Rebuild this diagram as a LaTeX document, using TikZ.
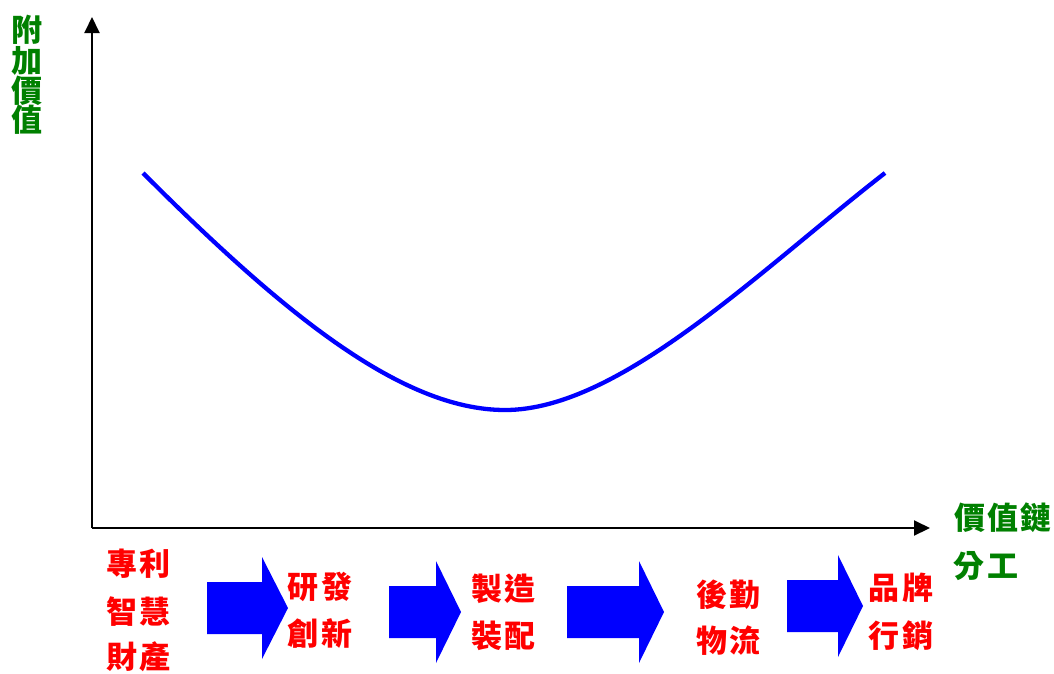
\documentclass[tikz,border=0pt]{standalone}
\usepackage{fontspec}
\usepackage{xcolor}
\usetikzlibrary{arrows.meta}
\newfontfamily\cjkfont{Noto Sans CJK TC}[LetterSpace=8]
\definecolor{lblgreen}{RGB}{0,128,0}
\definecolor{lblred}{RGB}{255,0,0}
\definecolor{curveblue}{RGB}{0,0,255}
% block arrow: left x, head x, tip x, centre y
\newcommand{\vcArrow}[4]{\fill[curveblue] (#1,#4-26) -- (#2,#4-26) -- (#2,#4-51) -- (#3,#4) -- (#2,#4+51) -- (#2,#4+26) -- (#1,#4+26) -- cycle;}

\begin{document}
\begin{tikzpicture}[x=1pt,y=-1pt,
  cjk/.style={anchor=base, inner sep=0pt, font=\cjkfont\bfseries\fontsize{31}{33}\selectfont},
  redlbl/.style={cjk, text=lblred},
  greenlbl/.style={cjk, text=lblgreen},
  axis/.style={line width=2pt, -{Triangle[length=16pt,width=15pt]}}]
\useasboundingbox (0,0) rectangle (1054,673);
% axes
\coordinate (origin) at (92,528);
\coordinate (ytop) at (92,17);
\coordinate (xend) at (930,528);
\draw[axis] (origin) -- (ytop);
\draw[axis] (origin) -- (xend);
% value curve
\coordinate (cL) at (143,173);
\coordinate (cM) at (505,410);
\coordinate (cR) at (885,173);
\draw[curveblue, line width=4.3pt] (cL) .. controls (280,310) and (400,410) .. (cM)
  .. controls (620,410) and (760,270) .. (cR);
% axis labels
\node[greenlbl] (yA) at (27,41.5) {附};
\node[greenlbl] (yB) at (27,72.5) {加};
\node[greenlbl] (yC) at (27,102.5) {價};
\node[greenlbl] (yD) at (27,131.5) {值};
\node[greenlbl] (xA) at (1003,529.5) {價值鏈};
\node[greenlbl] (xB) at (986,577.5) {分工};
% chain steps
\node[redlbl] (sA) at (138.5,575.5) {專利};
\node[redlbl] (sB) at (138.5,623.5) {智慧};
\node[redlbl] (sC) at (138.5,668) {財產};
\node[redlbl] (rA) at (320,598.5) {研發};
\node[redlbl] (rB) at (320,645.5) {創新};
\node[redlbl] (mA) at (503.5,600.5) {製造};
\node[redlbl] (mB) at (503.5,647.5) {裝配};
\node[redlbl] (lA) at (728.5,606.5) {後勤};
\node[redlbl] (lB) at (728.5,652.5) {物流};
\node[redlbl] (bA) at (901,599.5) {品牌};
\node[redlbl] (bB) at (901,647.5) {行銷};
% block arrows
\vcArrow{207}{262}{288}{608}
\vcArrow{389}{436}{461}{612}
\vcArrow{567}{639}{664}{612}
\vcArrow{787}{838}{863}{606}
\end{tikzpicture}
\end{document}
